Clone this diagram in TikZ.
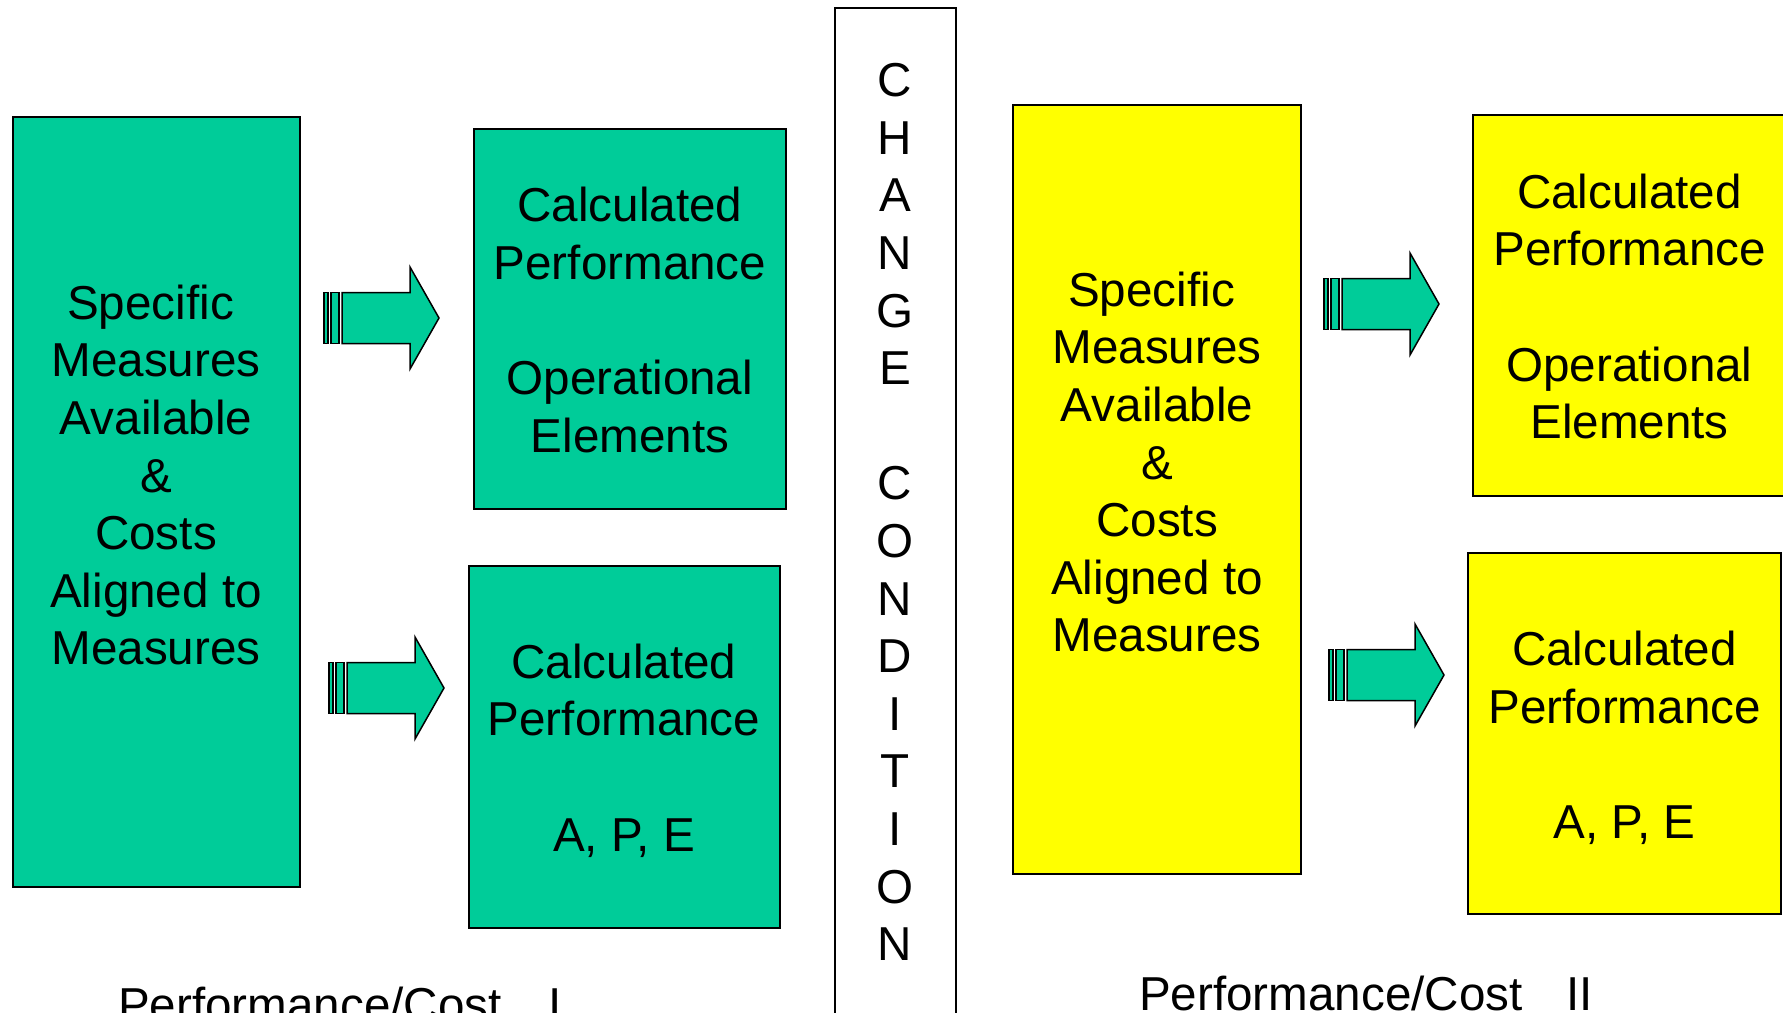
\documentclass[tikz,border=0pt]{standalone}
\usepackage{fontspec}
\setmainfont{Liberation Sans}
\definecolor{boxgreen}{HTML}{00CC99}
\definecolor{boxyellow}{HTML}{FFFF00}
\tikzset{
  gbox/.style={draw=black, line width=2pt, fill=boxgreen, inner sep=0pt},
  ybox/.style={draw=black, line width=2pt, fill=boxyellow, inner sep=0pt},
  wbox/.style={draw=black, line width=1.6pt, fill=white, inner sep=0pt},
  txt/.style={align=center, inner sep=0pt, font=\fontsize{47.6}{57.6}\selectfont},
  arrowpart/.style={draw=black, line width=1.5pt, fill=boxgreen, line join=miter},
  blockarrow/.pic={
    \draw[arrowpart] (0,-25.5) rectangle (4,25.5);
    \draw[arrowpart] (7,-25.5) rectangle (15,25.5);
    \draw[arrowpart] (18,-25.5) -- (86,-25.5) -- (86,-51) -- (115,0) -- (86,51) -- (86,25.5) -- (18,25.5) -- cycle;
  }
}
\begin{document}
\begin{tikzpicture}[x=1pt,y=-1pt]
\useasboundingbox (0,0) rectangle (1783,1012);
\clip (0,0) rectangle (1783,1012);
\fill[white] (0,0) rectangle (1783,1012);

% boxes
\node[gbox, minimum width=287.5pt, minimum height=770pt] (lb) at (156.25,502) {};
\node[gbox, minimum width=312pt, minimum height=380.5pt] (lt) at (630,318.75) {};
\node[gbox, minimum width=311.5pt, minimum height=362pt] (lbo) at (624.25,747) {};
\node[wbox, minimum width=121pt, minimum height=1022pt] (cc) at (895.5,519) {};
\node[ybox, minimum width=288pt, minimum height=769.4pt] (rb) at (1157,489.3) {};
\node[ybox, minimum width=313pt, minimum height=381pt] (rt) at (1629.5,305.5) {};
\node[ybox, minimum width=313pt, minimum height=361pt] (rbo) at (1624.5,733.5) {};

% texts
\node[txt] (lbt) at (156,475) {Specific\kern11pt\\Measures\\Available\\\&\\Costs\\Aligned to\\Measures};
\node[txt] (ltt) at (630,320) {Calculated\\Performance\\[57.6pt]Operational\\Elements};
\node[txt] (lbot) at (624,750.5) {Calculated\\Performance\\[57.6pt]A, P, E};
\node[txt] (cct) at (895,512) {C\\H\\A\\N\\G\\E\\[57.6pt]C\\O\\N\\D\\I\\T\\I\\O\\N};
\node[txt] (rbt) at (1157,462) {Specific\kern11pt\\Measures\\Available\\\&\\Costs\\Aligned to\\Measures};
\node[txt] (rtt) at (1629.5,306.5) {Calculated\\Performance\\[57.6pt]Operational\\Elements};
\node[txt] (rbot) at (1624.5,738) {Calculated\\Performance\\[57.6pt]A, P, E};

\node[txt, anchor=base west] (pc1) at (118,1021) {Performance/Cost\hspace{47pt}I};
\node[txt, anchor=base west] (pc2) at (1139,1010) {Performance/Cost\hspace{44pt}II};

% arrows
\pic at (324,318) {blockarrow};
\pic at (329,688) {blockarrow};
\pic at (1324,304) {blockarrow};
\pic at (1329,675) {blockarrow};
\end{tikzpicture}
\end{document}
